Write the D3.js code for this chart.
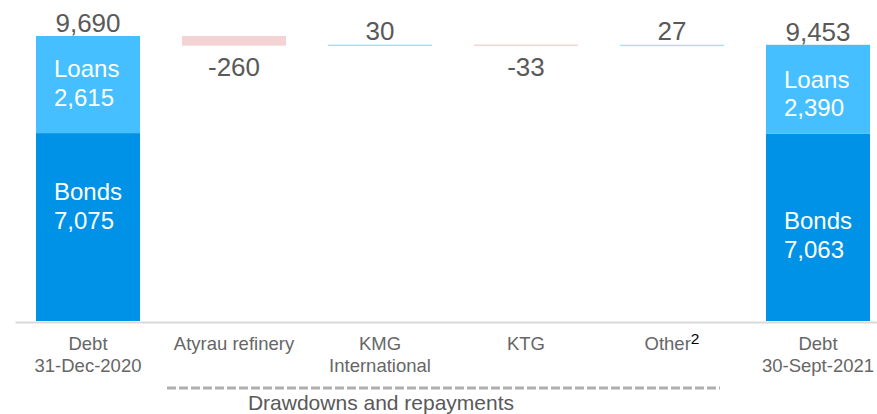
<!DOCTYPE html>
<html>
<head>
<meta charset="utf-8">
<script src="https://cdn.jsdelivr.net/npm/d3@7/dist/d3.min.js"></script>
<style>
  html, body { margin: 0; padding: 0; background: #fff; }
  svg { display: block; font-family: "Liberation Sans", Arial, sans-serif; }
</style>
</head>
<body>
<svg id="chart" width="877" height="414"></svg>
<script>
// ---- data ----
const categories = ["Debt 31-Dec-2020", "Atyrau refinery", "KMG International", "KTG", "Other", "Debt 30-Sept-2021"];
const labelLines = [["Debt", "31-Dec-2020"], ["Atyrau refinery"], ["KMG", "International"], ["KTG"], ["Other"], ["Debt", "30-Sept-2021"]];
const labelSup = ["", "", "", "", "2", ""];
const barType = ["total", "change", "change", "change", "change", "total"];
const bonds = [7075, null, null, null, null, 7063];
const loans = [2615, null, null, null, null, 2390];
const totals = [9690, null, null, null, null, 9453];
const changes = [null, -260, 30, -33, 27, null];
const groupLabel = "Drawdowns and repayments";
const groupFrom = "Atyrau refinery";
const groupTo = "Other";
const yMin = 2000, yMax = 10000;

// ---- layout ----
const baseY = 321.5, topY = 24.5;
const svg = d3.select("#chart");

const x = d3.scaleBand().domain(categories).range([15, 891])
  .paddingInner(0.2877).paddingOuter(0.1438);
const y = d3.scaleLinear().domain([yMin, yMax]).range([baseY, topY]);

const C = { loans: "#45BFFF", bonds: "#0092E6", up: "#A7DDF5", down: "#F3D3D3",
            val: "#595959", axis: "#666666", grid: "#D9D9D9", dash: "#AFAFAF" };

// build waterfall rows
let running = 0;
const rows = categories.map((c, i) => {
  if (barType[i] === "total") {
    running = totals[i];
    return { c, i, type: "total", total: totals[i], bonds: bonds[i], loans: loans[i] };
  } else {
    const start = running, end = running + changes[i];
    running = end;
    return { c, i, type: "change", start, end, v: changes[i] };
  }
});

// axis line
const axis = d3.axisBottom(x).tickSize(0).tickFormat("");
const gAxis = svg.append("g").attr("transform", `translate(0,${baseY + 0.5})`).call(axis);
gAxis.select(".domain").attr("stroke", C.grid).attr("stroke-width", 2);

const fmt = d3.format(",");
// per-bar label nudges (layout only)
const nudge = { 0: { loans: 0, bonds: 0 }, 5: { loans: 2, bonds: 28 } };

rows.filter(r => r.type === "total").forEach(r => {
  const x0 = x(r.c), bw = x.bandwidth();
  svg.append("rect").attr("x", x0).attr("width", bw)
    .attr("y", y(r.bonds)).attr("height", y(yMin) - y(r.bonds) - 0.5)
    .attr("fill", C.bonds);
  svg.append("rect").attr("x", x0).attr("width", bw)
    .attr("y", y(r.total)).attr("height", y(r.bonds) - y(r.total))
    .attr("fill", C.loans);
  // total value above
  svg.append("text").attr("x", x0 + bw / 2).attr("y", y(r.total) - 4)
    .attr("text-anchor", "middle").attr("font-size", 26).attr("fill", C.val)
    .text(fmt(r.total));
  // loans label
  const lt = y(r.total) + 41 + nudge[r.i].loans;
  const tl = svg.append("text").attr("x", x0 + 18).attr("y", lt)
    .attr("font-size", 24).attr("fill", "#fff");
  tl.append("tspan").attr("x", x0 + 18).text("Loans");
  tl.append("tspan").attr("x", x0 + 18).attr("dy", 28.5).text(fmt(r.loans));
  // bonds label
  const bt = y(r.bonds) + 67 + nudge[r.i].bonds;
  const tb = svg.append("text").attr("x", x0 + 18).attr("y", bt)
    .attr("font-size", 24).attr("fill", "#fff");
  tb.append("tspan").attr("x", x0 + 18).text("Bonds");
  tb.append("tspan").attr("x", x0 + 18).attr("dy", 29).text(fmt(r.bonds));
});

// change bars
rows.filter(r => r.type === "change").forEach(r => {
  const x0 = x(r.c), bw = x.bandwidth();
  const yTop = y(Math.max(r.start, r.end)), yBot = y(Math.min(r.start, r.end));
  svg.append("rect").attr("x", x0).attr("width", bw)
    .attr("y", yTop).attr("height", Math.max(yBot - yTop, 1.4))
    .attr("fill", r.v < 0 ? C.down : C.up);
  svg.append("text").attr("x", x0 + bw / 2)
    .attr("y", r.v < 0 ? yBot + 30.5 : yTop - 4.5)
    .attr("text-anchor", "middle").attr("font-size", 26).attr("fill", C.val)
    .text(r.v);
});

// category labels
categories.forEach((c, i) => {
  const cx = x(c) + x.bandwidth() / 2;
  const t = svg.append("text").attr("x", cx).attr("y", 350)
    .attr("text-anchor", "middle").attr("font-size", 18.5).attr("fill", C.axis);
  labelLines[i].forEach((ln, j) => {
    t.append("tspan").attr("x", cx).attr("dy", j === 0 ? 0 : 22.3).text(ln);
    if (j === 0 && labelSup[i]) {
      t.append("tspan").attr("dy", -6).attr("font-size", 15.5).attr("fill", "#000").text(labelSup[i]);
    }
  });
});

// group bracket (dashed) and label
const gx0 = x(groupFrom) - 15;
const gx1 = x(groupTo) + x.bandwidth() - 4;
svg.append("line").attr("x1", gx0).attr("x2", gx1).attr("y1", 388).attr("y2", 388)
  .attr("stroke", C.dash).attr("stroke-width", 3).attr("stroke-dasharray", "9,3");
svg.append("text").attr("x", x("KMG International") + x.bandwidth() / 2 + 1).attr("y", 410)
  .attr("text-anchor", "middle").attr("font-size", 21).attr("fill", C.val)
  .text(groupLabel);
</script>
</body>
</html>
